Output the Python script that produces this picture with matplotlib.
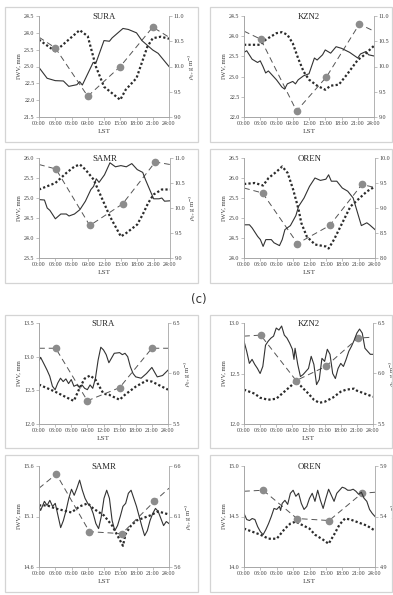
import matplotlib
matplotlib.use("Agg")
import matplotlib.pyplot as plt
from matplotlib.patches import Rectangle

plt.rcParams["font.family"] = ["Liberation Serif", "DejaVu Serif"]
plt.rcParams["mathtext.fontset"] = "stix"

W, H = 393, 595

# ---------------- top group ----------------
# SURA
sura1_t = [0, 1.5, 3, 4.5, 5.5, 7, 7.5, 8, 10, 10.5, 12, 13, 13.5, 15.5, 16.5, 18, 19, 21, 22, 24]
sura1_iwv = [22.97, 22.65, 22.58, 22.57, 22.41, 22.46, 22.55, 22.45, 23.12, 23.1, 23.77, 23.75, 23.85,
             24.13, 24.1, 24.0, 23.77, 23.49, 23.39, 23.0]
sura1_dot_t = [0, 3, 7.5, 9, 10.5, 12, 15, 16, 18, 20, 21, 22.5, 24]
sura1_dot = [10.53, 10.3, 10.72, 10.6, 10.0, 9.6, 9.34, 9.54, 9.77, 10.39, 10.56, 10.59, 10.55]
sura1_rs_t = [0, 3, 9, 15, 21, 24]
sura1_rs = [10.58, 10.37, 9.41, 10.0, 10.78, 10.58]

# KZN2
kzn1_t = [0, 0.5, 1.5, 2.5, 3, 3.5, 4, 4.5, 6, 7, 7.5, 8, 9, 9.5, 10, 11, 12, 13, 13.5, 14.5, 15,
          16, 17, 18, 19.5, 21, 21.5, 22.5, 23, 24]
kzn1_iwv = [23.6, 23.64, 23.43, 23.35, 23.39, 23.25, 23.09, 23.14, 22.92, 22.74, 22.69, 22.82, 22.88,
            22.82, 22.92, 23.02, 23.07, 23.46, 23.41, 23.54, 23.66, 23.58, 23.74, 23.7, 23.6, 23.46,
            23.56, 23.62, 23.54, 23.51]
kzn1_dot_t = [0, 3, 4, 6, 7, 8, 9, 10, 11, 12, 13.5, 15, 16, 17.5, 19, 21, 22, 24]
kzn1_dot = [10.43, 10.43, 10.53, 10.66, 10.68, 10.63, 10.46, 10.16, 9.9, 9.74, 9.62, 9.54, 9.62, 9.64,
            9.84, 10.13, 10.21, 10.41]
kzn1_rs_t = [0, 3.1, 9.7, 15.2, 21.3, 24]
kzn1_rs = [10.7, 10.54, 9.12, 9.79, 10.84, 10.7]

# SAMR
samr1_t = [0, 1, 1.5, 2, 3, 4, 5, 5.5, 6.5, 7.5, 8.5, 9.5, 10, 10.5, 11, 12, 13, 14, 15, 16, 17, 18,
           19, 19.5, 20.5, 21, 22, 22.5, 23, 24]
samr1_iwv = [24.96, 24.95, 24.75, 24.69, 24.48, 24.6, 24.6, 24.55, 24.6, 24.71, 24.92, 25.21, 25.29,
             25.48, 25.39, 25.58, 25.88, 25.78, 25.81, 25.78, 25.86, 25.71, 25.64, 25.46, 25.14, 24.98,
             24.98, 25.0, 24.92, 24.93]
samr1_dot_t = [0, 3, 5, 6.5, 7.5, 8.5, 10, 11.5, 13, 15, 16, 18, 19, 20, 21, 22.5, 24]
samr1_dot = [10.37, 10.5, 10.7, 10.83, 10.87, 10.77, 10.57, 10.2, 9.83, 9.43, 9.5, 9.67, 9.87, 10.1,
             10.27, 10.37, 10.37]
samr1_rs_t = [0, 3.1, 9.3, 15.3, 21.3, 24]
samr1_rs = [10.87, 10.78, 9.65, 10.08, 10.92, 10.87]

# OREN
oren1_t = [0, 1, 1.5, 2.5, 3, 3.5, 4, 5, 5.5, 6.5, 7, 7.5, 8.5, 9.5, 10, 11, 12, 13, 14, 15, 15.5,
           16, 17, 18, 19, 20, 21, 21.5, 22.5, 23, 24]
oren1_iwv = [24.83, 24.83, 24.75, 24.54, 24.46, 24.29, 24.46, 24.46, 24.38, 24.31, 24.46, 24.71,
             24.81, 25.06, 25.29, 25.5, 25.79, 26.0, 25.94, 25.97, 26.08, 25.92, 25.92, 25.75, 25.67,
             25.5, 25.04, 24.81, 24.88, 24.83, 24.71]
oren1_dot_t = [0, 2, 3.5, 4.5, 6, 7, 8, 9, 10, 10.5, 11.5, 13, 15, 15.5, 16.5, 18, 19.5, 21, 22.5, 24]
oren1_dot = [9.48, 9.5, 9.45, 9.6, 9.73, 9.83, 9.7, 9.37, 8.97, 8.7, 8.43, 8.27, 8.23, 8.19, 8.37, 8.7,
             9.03, 9.18, 9.33, 9.43]
oren1_rs_t = [0, 3.4, 9.8, 15.7, 21.6, 24]
oren1_rs = [9.4, 9.3, 8.29, 8.65, 9.47, 9.41]

# ---------------- bottom group ----------------
# SURA
sura2_t = [0, 0.3, 1, 1.5, 2, 2.5, 3, 3.5, 4, 4.5, 5, 5.5, 6, 6.5, 7, 7.5, 8, 8.5, 9, 9.5, 10, 10.5,
           11, 11.5, 12, 12.5, 13, 13.5, 14, 15, 15.5, 16, 16.5, 17, 17.5, 18, 19, 20, 21, 22, 23, 24]
sura2_iwv = [12.94, 12.99, 12.88, 12.8, 12.71, 12.56, 12.51, 12.61, 12.68, 12.63, 12.67, 12.6, 12.66,
             12.56, 12.58, 12.55, 12.58, 12.53, 12.51, 12.58, 12.53, 12.68, 12.95, 13.14, 13.1, 13.03,
             12.91, 12.98, 13.05, 13.06, 13.03, 13.05, 13.0, 12.85, 12.75, 12.7, 12.68, 12.75, 12.84,
             12.7, 12.72, 12.8]
sura2_dot_t = [0, 3, 6, 6.5, 7.5, 8.5, 9.5, 10.5, 12, 13, 15, 16, 18, 20, 21, 24]
sura2_dot = [5.89, 5.82, 5.74, 5.73, 5.85, 5.95, 5.98, 5.94, 5.8, 5.79, 5.74, 5.79, 5.87, 5.93, 5.92, 5.84]
sura2_rs_t = [0, 3.1, 9, 15, 21, 24]
sura2_rs = [6.25, 6.25, 5.73, 5.86, 6.25, 6.25]

# KZN2
kzn2_t = [0, 0.5, 1, 1.5, 2, 2.5, 3, 3.5, 4, 4.5, 5, 5.5, 6, 6.5, 7, 7.5, 8, 8.5, 9, 9.3, 9.5, 10,
          10.5, 11, 11.5, 12, 12.5, 13, 13.5, 14, 14.5, 15, 15.5, 16, 16.5, 17, 17.5, 18, 18.5, 19,
          19.5, 20, 20.5, 21, 21.5, 22, 22.5, 23, 23.5, 24]
kzn2_iwv = [12.82, 12.72, 12.6, 12.64, 12.59, 12.55, 12.5, 12.57, 12.78, 12.82, 12.85, 12.87, 12.95,
            12.93, 12.97, 12.88, 12.85, 12.8, 12.74, 12.64, 12.75, 12.59, 12.47, 12.49, 12.52, 12.55,
            12.67, 12.59, 12.39, 12.44, 12.65, 12.62, 12.74, 12.69, 12.5, 12.45, 12.55, 12.6, 12.57,
            12.64, 12.72, 12.77, 12.83, 12.9, 12.94, 12.9, 12.75, 12.72, 12.69, 12.69]
kzn2_dot_t = [0, 2, 3, 4.5, 6, 7.5, 9, 9.5, 10.5, 12, 13, 14, 15, 16.5, 18, 19, 20.5, 21, 22.5, 24]
kzn2_dot = [5.84, 5.8, 5.76, 5.74, 5.75, 5.82, 5.89, 5.92, 5.88, 5.8, 5.74, 5.71, 5.72, 5.76, 5.82,
            5.84, 5.85, 5.83, 5.8, 5.77]
kzn2_rs_t = [0, 3.1, 9.7, 15.2, 21.2, 24]
kzn2_rs = [6.37, 6.38, 5.93, 6.07, 6.35, 6.36]

# SAMR
samr2_t = [0, 0.3, 1, 1.5, 2, 2.5, 3, 3.5, 4, 4.5, 5, 5.5, 6, 6.5, 7, 7.5, 8, 8.5, 9, 9.5, 10, 10.5,
           11, 11.5, 12, 12.5, 13, 13.5, 14, 14.5, 15, 15.5, 16, 16.5, 17, 17.5, 18, 18.5, 19, 19.5,
           20, 20.5, 21, 21.5, 22, 22.5, 23, 23.5, 24]
samr2_iwv = [15.2, 15.16, 15.25, 15.21, 15.26, 15.2, 15.23, 15.11, 14.99, 15.06, 15.16, 15.28, 15.37,
             15.31, 15.38, 15.46, 15.36, 15.28, 15.23, 15.2, 15.13, 15.03, 14.98, 15.1, 15.28, 15.36,
             15.28, 15.06, 14.96, 15.01, 15.1, 15.2, 15.23, 15.33, 15.36, 15.28, 15.2, 15.1, 15.0,
             14.91, 14.96, 15.06, 15.13, 15.18, 15.15, 15.08, 15.01, 15.05, 15.03]
samr2_dot_t = [0, 1.5, 3, 4.5, 6, 7.5, 9, 10, 12, 13.5, 14.5, 15.5, 16, 17, 18, 19, 20.5, 22, 24]
samr2_dot = [6.21, 6.21, 6.18, 6.16, 6.14, 6.2, 6.23, 6.18, 6.11, 6.01, 5.91, 5.81, 5.93, 6.01, 6.06,
             6.08, 6.11, 6.15, 6.12]
samr2_rs_t = [0, 3.2, 9.3, 15.3, 21.3, 24]
samr2_rs = [6.38, 6.52, 5.95, 5.93, 6.25, 6.38]

# OREN
oren2_t = [0, 0.5, 1, 1.5, 2, 2.5, 3, 3.5, 4, 4.5, 5, 5.5, 6, 6.5, 6.7, 7, 7.5, 8, 8.5, 9, 9.5, 10,
           10.5, 11, 11.5, 12, 12.5, 13, 13.5, 14, 14.5, 15, 15.5, 16, 16.5, 17, 17.5, 18, 18.5, 19,
           19.5, 20, 20.5, 21, 21.5, 22, 22.5, 23, 23.5, 24]
oren2_iwv = [14.53, 14.47, 14.46, 14.48, 14.47, 14.4, 14.35, 14.32, 14.37, 14.43, 14.5, 14.58, 14.57,
             14.6, 14.56, 14.63, 14.66, 14.62, 14.73, 14.76, 14.7, 14.73, 14.63, 14.57, 14.6, 14.68,
             14.73, 14.65, 14.76, 14.66, 14.58, 14.68, 14.77, 14.71, 14.65, 14.73, 14.76, 14.79,
             14.78, 14.76, 14.76, 14.77, 14.75, 14.72, 14.74, 14.68, 14.65, 14.57, 14.53, 14.5]
oren2_dot_t = [0, 3, 4.5, 6, 7.5, 8.5, 9.5, 10.5, 12, 13, 14.5, 15.5, 16.5, 17.5, 18.5, 19.5, 21, 22.5, 24]
oren2_dot = [5.28, 5.22, 5.18, 5.18, 5.28, 5.33, 5.35, 5.32, 5.28, 5.22, 5.17, 5.13, 5.22, 5.32, 5.38,
             5.37, 5.34, 5.31, 5.26]
oren2_rs_t = [0, 3.5, 9.7, 15.6, 21.6, 24]
oren2_rs = [5.65, 5.66, 5.38, 5.36, 5.63, 5.64]

hour_ticks = list(range(0, 25, 3))
hour_labels = ["%02d:00" % h for h in hour_ticks]

panels = [
    # title, solid, dotted, dashed, left ylim, right ylim, pixel box (l, t, r, b)
    ("SURA", sura1_t, sura1_iwv, sura1_dot_t, sura1_dot, sura1_rs_t, sura1_rs, (21.5, 24.5), (9.0, 11.0), (39, 16, 169, 117)),
    ("KZN2", kzn1_t, kzn1_iwv, kzn1_dot_t, kzn1_dot, kzn1_rs_t, kzn1_rs, (22.0, 24.5), (9.0, 11.0), (244, 16, 374, 117)),
    ("SAMR", samr1_t, samr1_iwv, samr1_dot_t, samr1_dot, samr1_rs_t, samr1_rs, (23.5, 26.0), (9.0, 11.0), (39, 158, 170, 258)),
    ("OREN", oren1_t, oren1_iwv, oren1_dot_t, oren1_dot, oren1_rs_t, oren1_rs, (24.0, 26.5), (8.0, 10.0), (244, 158, 375, 258)),
    ("SURA", sura2_t, sura2_iwv, sura2_dot_t, sura2_dot, sura2_rs_t, sura2_rs, (12.0, 13.5), (5.5, 6.5), (39, 323, 168, 424)),
    ("KZN2", kzn2_t, kzn2_iwv, kzn2_dot_t, kzn2_dot, kzn2_rs_t, kzn2_rs, (12.0, 13.0), (5.5, 6.5), (244, 323, 373, 424)),
    ("SAMR", samr2_t, samr2_iwv, samr2_dot_t, samr2_dot, samr2_rs_t, samr2_rs, (14.6, 15.6), (5.6, 6.6), (39, 466, 169, 567)),
    ("OREN", oren2_t, oren2_iwv, oren2_dot_t, oren2_dot, oren2_rs_t, oren2_rs, (14.0, 15.0), (4.9, 5.9), (244, 466, 375, 567)),
]

fig = plt.figure(figsize=(W / 100, H / 100), dpi=100)

# chart-area frames (Excel style)
for l, t, r, b in [(5, 7, 198, 142), (210, 7, 392, 142), (5, 149, 198, 283), (210, 149, 392, 283),
                   (5, 315, 198, 448), (210, 315, 392, 448), (5, 455, 198, 592), (210, 455, 392, 592)]:
    fig.patches.append(Rectangle((l / W, 1 - b / H), (r - l) / W, (b - t) / H, transform=fig.transFigure,
                                 fill=False, edgecolor="#d4d4d4", lw=0.9))

axis_col = "#a6a6a6"
text_col = "#404040"

for (title, t, iwv, dt, dv, rt, rv, ylim, rlim, (l, tp, r, b)) in panels:
    ax = fig.add_axes([l / W, 1 - b / H, (r - l) / W, (b - tp) / H])
    ax2 = ax.twinx()
    ax.set_zorder(ax2.get_zorder() + 1)
    ax.patch.set_visible(False)

    ax.plot(t, iwv, color="#333333", lw=0.8)
    ax2.plot(dt, dv, color="#2b2b2b", lw=1.6, linestyle=(0, (1, 1)), dash_capstyle="butt")
    ax2.plot(rt, rv, color="#555555", lw=0.7, linestyle=(0, (6, 4)),
             marker="o", markevery=[1, 2, 3, 4], markersize=4.5,
             markerfacecolor="#8c8c8c", markeredgecolor="#8c8c8c")

    ax.set_xlim(0, 24)
    ax.set_ylim(*ylim)
    ax2.set_ylim(*rlim)
    ax.set_yticks([ylim[0] + 0.5 * i for i in range(int(round((ylim[1] - ylim[0]) / 0.5)) + 1)])
    ax2.set_yticks([rlim[0] + 0.5 * i for i in range(int(round((rlim[1] - rlim[0]) / 0.5)) + 1)])
    ax.yaxis.set_major_formatter(matplotlib.ticker.FormatStrFormatter("%.1f"))
    ax2.yaxis.set_major_formatter(matplotlib.ticker.FormatStrFormatter("%.1f"))
    ax.set_xticks(hour_ticks)
    ax.set_xticklabels(hour_labels)

    for a in (ax, ax2):
        a.spines["top"].set_visible(False)
        for s in a.spines.values():
            s.set_color(axis_col)
            s.set_linewidth(0.6)
        a.tick_params(labelsize=4.3, colors=axis_col, labelcolor=text_col, length=2, width=0.5, pad=1.2)
    ax.spines["right"].set_visible(False)

    ax.text(0.5, 0.99, title, transform=ax.transAxes, ha="center", va="center",
            fontsize=6.3, color="#262626")
    ax.set_xlabel("LST", fontsize=5.2, color=text_col, labelpad=1.5)
    ax.set_ylabel("IWV, mm", fontsize=4.8, color=text_col, labelpad=2)
    ax2.set_ylabel(r"$\rho_0$, g m$^{-3}$", fontsize=4.8, color=text_col, labelpad=2)

fig.text(199 / W, 1 - 300 / H, "(c)", ha="center", va="center", fontsize=8.5,
         family="DejaVu Sans", color="#333333")

fig.savefig("out.png", dpi=100)
